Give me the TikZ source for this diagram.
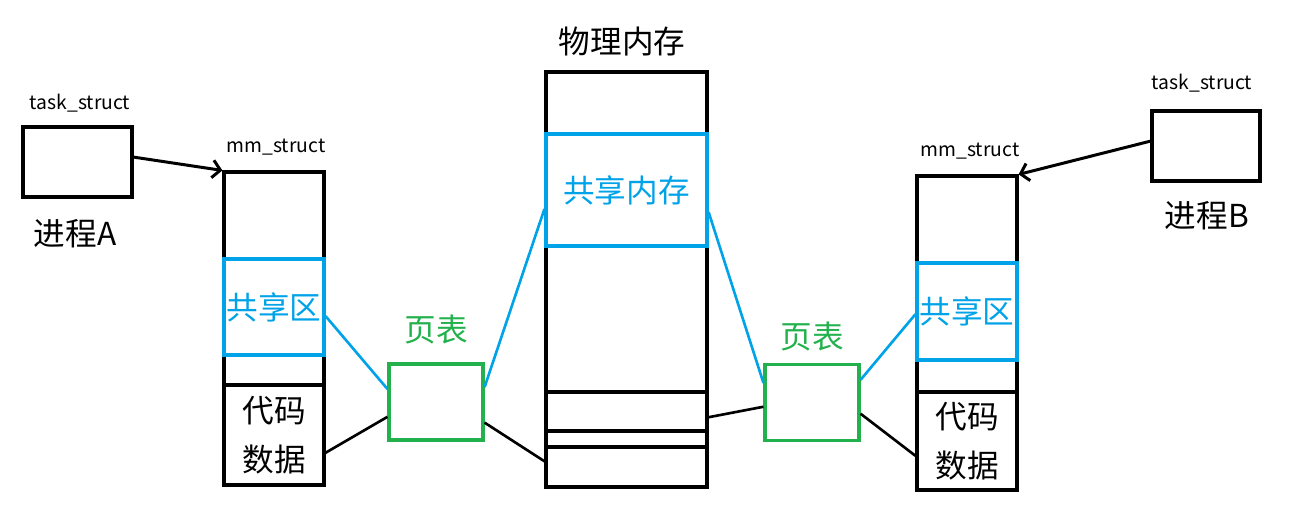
\documentclass[tikz,border=0pt]{standalone}
\usepackage{fontspec}
\setmainfont{Noto Sans CJK SC}
\usetikzlibrary{arrows.meta}
\definecolor{shmblue}{RGB}{0,162,232}
\definecolor{ptgreen}{RGB}{34,177,76}
\begin{document}
\begin{tikzpicture}[x=0.02cm,y=-0.02cm,
  blk/.style={draw,line width=1.8pt,inner sep=0pt},
  shbox/.style={blk,draw=shmblue,text=shmblue,font=\fontsize{18}{22}\selectfont},
  ptbox/.style={blk,draw=ptgreen,minimum width=1.88cm,minimum height=1.52cm},
  small/.style={font=\fontsize{11}{13}\selectfont},
  big/.style={font=\fontsize{18}{22}\selectfont},
  link/.style={line width=1.5pt},
  ptr/.style={line width=1.7pt,-{Straight Barb[length=4.5pt,width=10pt,line width=1.7pt]}}]
\useasboundingbox (0,0) rectangle (1296,531);
% process A
\node[blk,minimum width=2.18cm,minimum height=1.4cm] (taskA) at (77.5,162) {};
\node[small] (tslA) at (80,103) {task\_struct};
\node[big] (nameA) at (75,234) {进程A};
\node[blk,minimum width=2cm,minimum height=6.26cm] (mmA) at (274,328.5) {};
\node[small] (mmlA) at (276,147) {mm\_struct};
\node[shbox,minimum width=2cm,minimum height=1.92cm] (shA) at (274,307) {共享区};
\node[blk,minimum width=2cm,minimum height=2cm,align=center,font=\fontsize{18}{28}\selectfont] (cdA) at (274,435) {代码\\数据};
% page tables
\node[ptbox] (ptA) at (436,402) {};
\node[big,text=ptgreen] (ptlA) at (436,330) {页表};
\node[ptbox] (ptB) at (812,402.5) {};
\node[big,text=ptgreen] (ptlB) at (812,337) {页表};
% physical memory
\node[blk,minimum width=3.22cm,minimum height=8.3cm] (mem) at (626.5,279.5) {};
\node[big] (meml) at (622,42) {物理内存};
\node[shbox,minimum width=3.22cm,minimum height=2.24cm] (shm) at (626.5,190) {共享内存};
\node[blk,minimum width=3.22cm,minimum height=0.78cm] (seg1) at (626.5,411.5) {};
\node[blk,minimum width=3.22cm,minimum height=0.32cm] (seg2) at (626.5,439) {};
\node[blk,minimum width=3.22cm,minimum height=0.8cm] (seg3) at (626.5,467) {};
% process B
\node[blk,minimum width=2.16cm,minimum height=1.4cm] (taskB) at (1206,146) {};
\node[small] (tslB) at (1202,83) {task\_struct};
\node[big] (nameB) at (1207,216) {进程B};
\node[blk,minimum width=2cm,minimum height=6.28cm] (mmB) at (967,333) {};
\node[small] (mmlB) at (970,151) {mm\_struct};
\node[shbox,minimum width=2cm,minimum height=1.94cm] (shB) at (967,311.5) {共享区};
\node[blk,minimum width=2cm,minimum height=1.96cm,align=center,font=\fontsize{18}{28}\selectfont] (cdB) at (967,441) {代码\\数据};
% pointers
\draw[ptr] (taskA.5) -- (mmA.north west);
\draw[ptr] (taskB.175) -- (mmB.north east);
% mappings
\draw[link,shmblue] (shA.-10) -- (ptA.165);
\draw[link] (cdA.-19) -- (ptA.197);
\draw[link,shmblue] (ptA.17) -- (shm.193);
\draw[link] (ptA.-23) -- (seg3.176);
\draw[link,shmblue] (shm.-15) -- (ptB.158);
\draw[link] (seg1.-4) -- (ptB.185);
\draw[link,shmblue] (ptB.25) -- (shB.183);
\draw[link] (ptB.-13) -- (cdB.196);
\end{tikzpicture}
\end{document}
